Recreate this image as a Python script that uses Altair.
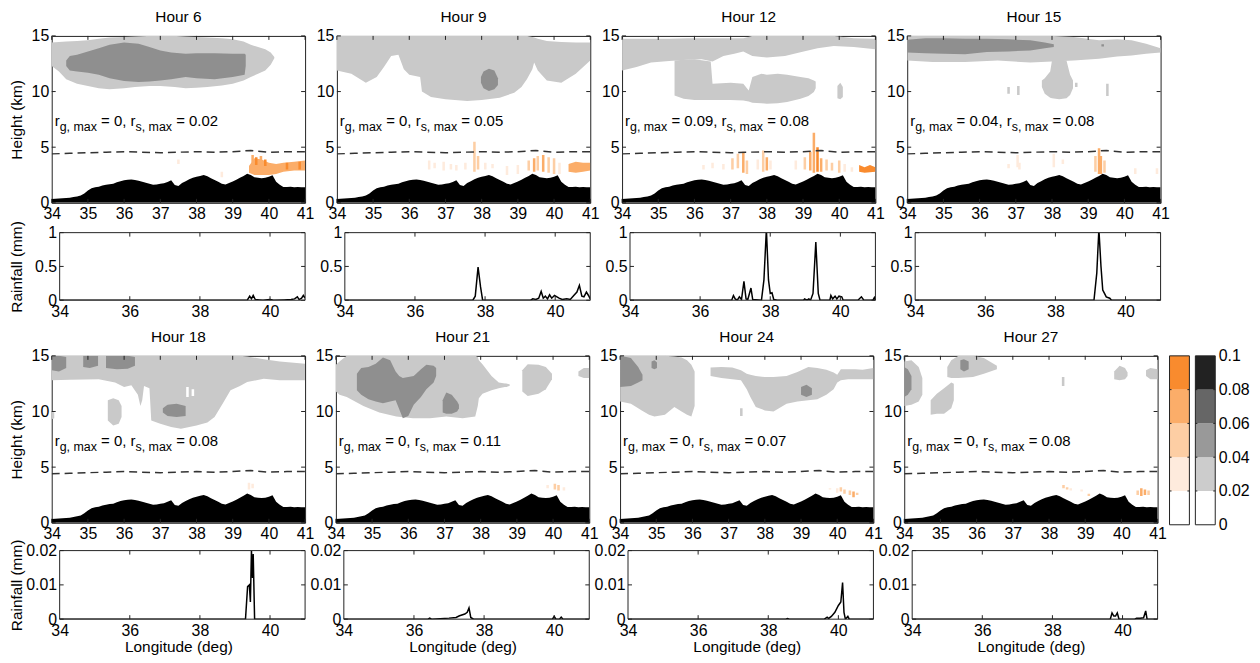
import altair as alt
import pandas as pd

# ---------------------------------------------------------------- data
HOURS = [6, 9, 12, 15, 18, 21, 24, 27]
RG_MAX = ["0", "0", "0.09", "0.04", "0", "0", "0", "0"]
RS_MAX = ["0.02", "0.05", "0.08", "0.08", "0.08", "0.11", "0.07", "0.08"]

LON_TICKS_TOP = [34, 35, 36, 37, 38, 39, 40, 41]
HEIGHT_TICKS = [0, 5, 10, 15]
LON_TICKS_RAIN = [34, 36, 38, 40]
RAIN_TICKS_ROW1 = [0, 0.5, 1]
RAIN_TICKS_ROW2 = [0, 0.01, 0.02]
CB_LEVELS = [0, 0.02, 0.04, 0.06, 0.08, 0.1]

# terrain profile (lon, km)
TERRAIN = [
    (34.0, 0.35), (34.1, 0.37), (34.2, 0.39), (34.3, 0.41), (34.4, 0.43), (34.5, 0.46),
    (34.6, 0.52), (34.7, 0.58), (34.8, 0.65), (34.9, 0.85), (35.0, 1.10), (35.1, 1.30),
    (35.2, 1.40), (35.3, 1.45), (35.4, 1.55), (35.5, 1.62), (35.6, 1.68), (35.7, 1.72),
    (35.8, 1.85), (35.9, 1.95), (36.0, 2.02), (36.1, 2.08), (36.2, 2.10), (36.3, 2.05),
    (36.4, 1.98), (36.5, 1.90), (36.6, 1.80), (36.7, 1.72), (36.8, 1.62), (36.9, 1.65),
    (37.0, 1.72), (37.1, 1.75), (37.2, 1.88), (37.3, 2.02), (37.4, 1.60), (37.5, 1.52),
    (37.6, 1.78), (37.7, 1.95), (37.8, 2.12), (37.9, 2.25), (38.0, 2.35), (38.1, 2.42),
    (38.2, 2.50), (38.3, 2.38), (38.4, 2.20), (38.5, 2.05), (38.6, 1.90), (38.7, 1.72),
    (38.8, 1.65), (38.9, 1.78), (39.0, 1.92), (39.1, 2.08), (39.2, 2.25), (39.3, 2.42),
    (39.4, 2.62), (39.5, 2.50), (39.6, 2.30), (39.7, 2.25), (39.8, 2.22), (39.9, 2.25),
    (40.0, 2.35), (40.1, 2.48), (40.2, 1.90), (40.3, 1.62), (40.4, 1.42), (40.5, 1.42),
    (40.6, 1.45), (40.7, 1.40), (40.8, 1.42), (40.9, 1.40), (41.0, 1.40),
]

# freezing level (lon, km)
FREEZING = [
    (34.0, 4.40), (34.5, 4.45), (35.0, 4.50), (35.5, 4.55), (36.0, 4.60), (36.5, 4.55),
    (37.0, 4.50), (37.5, 4.55), (38.0, 4.60), (38.5, 4.55), (39.0, 4.60), (39.5, 4.70),
    (40.0, 4.55), (40.5, 4.60), (41.0, 4.60),
]

# ---- cloud / graupel regions: (lon, bottom km, top km)
H6_LIGHT_A = [(34.0, 12.3, 14.4), (34.2, 11.8, 14.45), (34.4, 11.1, 14.5), (34.7, 10.7, 14.55),
              (35.0, 10.5, 14.6), (35.3, 10.3, 14.75), (35.6, 10.2, 14.85), (36.0, 10.3, 14.9),
              (36.3, 10.4, 14.95), (36.7, 10.5, 15.0), (37.0, 10.5, 15.0), (37.4, 10.4, 15.0),
              (37.7, 10.3, 14.95), (38.0, 10.35, 14.9), (38.3, 10.4, 14.85), (38.7, 10.55, 14.8),
              (39.0, 10.7, 14.7), (39.3, 11.0, 14.5), (39.5, 11.3, 14.2), (39.7, 11.6, 14.0),
              (39.9, 11.9, 13.8), (40.05, 12.4, 13.5), (40.15, 13.0, 13.1)]
H6_DARK_A = [(34.4, 12.3, 12.8), (34.5, 11.9, 13.2), (34.7, 11.8, 13.3), (35.0, 11.7, 13.6),
             (35.3, 11.5, 13.9), (35.6, 11.2, 14.2), (36.0, 10.95, 14.4), (36.4, 10.85, 14.3),
             (36.7, 10.9, 14.0), (37.0, 11.0, 13.7), (37.3, 11.1, 13.5), (37.7, 11.3, 13.4),
             (38.0, 11.2, 13.45), (38.5, 11.1, 13.45), (39.0, 11.3, 13.4), (39.33, 11.5, 13.4),
             (39.36, 12.3, 13.3)]
H6_ORANGE_A = [(39.45, 2.7, 3.3), (39.6, 2.5, 4.0), (39.8, 2.5, 3.9), (40.0, 2.5, 3.6),
               (40.2, 2.6, 3.5), (40.4, 2.8, 3.6), (40.7, 2.9, 3.7), (41.0, 2.9, 3.8)]
H6_STREAKS = [(37.5, 3.5, 3.9, "1"), (38.7, 2.3, 2.8, "1"), (39.55, 3.6, 4.3, "3"),
              (39.65, 3.4, 4.1, "4"), (39.78, 3.5, 4.2, "3"), (39.9, 3.3, 3.9, "4"),
              (40.5, 3.0, 3.6, "4"), (40.85, 3.0, 3.7, "4")]

H9_LIGHT_A = [(34.0, 11.9, 15.0), (34.4, 11.6, 15.0), (34.8, 10.8, 15.0), (35.1, 11.3, 15.0),
              (35.3, 12.2, 15.0), (35.5, 13.2, 15.0), (35.7, 13.3, 15.0), (35.85, 12.0, 15.0),
              (36.0, 11.5, 15.0), (36.3, 11.3, 15.0), (36.35, 10.0, 15.0), (36.6, 9.5, 15.0),
              (37.0, 9.3, 15.0), (37.6, 9.15, 15.0), (38.0, 9.25, 15.0), (38.5, 9.45, 15.0),
              (38.9, 9.9, 15.0), (39.1, 10.4, 15.0), (39.25, 11.1, 15.0), (39.4, 12.0, 14.9),
              (39.45, 12.6, 14.85), (39.55, 11.9, 14.75), (39.8, 11.0, 14.55), (40.2, 10.8, 14.45),
              (40.6, 11.6, 14.4), (41.0, 12.8, 14.4)]
H9_DARK_A = [(37.98, 10.8, 11.3), (38.05, 10.3, 11.8), (38.2, 10.05, 12.05), (38.35, 10.2, 11.9),
             (38.45, 10.6, 11.2)]
H9_ORANGE_A = [(40.4, 2.8, 3.5), (40.6, 2.7, 3.7), (40.8, 2.8, 3.6), (41.0, 2.9, 3.6)]
H9_STREAKS = [(36.55, 3.0, 3.8, "1"), (36.7, 3.1, 3.6, "1"), (36.95, 2.9, 3.7, "1"),
              (37.15, 3.0, 3.5, "1"), (37.3, 2.9, 3.4, "1"), (37.55, 3.0, 3.6, "1"),
              (37.8, 2.8, 5.5, "2"), (37.9, 3.0, 4.2, "2"), (38.1, 3.0, 3.6, "1"),
              (38.3, 3.1, 3.5, "1"), (38.7, 2.5, 3.3, "1"), (39.0, 2.6, 3.4, "1"),
              (39.3, 2.9, 3.8, "2"), (39.45, 2.8, 4.0, "3"), (39.55, 2.9, 4.2, "2"),
              (39.7, 2.8, 4.3, "3"), (39.85, 2.7, 4.1, "2"), (40.0, 2.6, 4.0, "2"),
              (40.15, 2.6, 3.6, "1")]

H12_LIGHT_A = [(34.0, 11.9, 14.75), (34.4, 12.2, 14.75), (34.8, 12.6, 14.75), (35.3, 12.75, 14.75),
               (35.8, 12.85, 14.8), (36.2, 12.9, 14.8), (36.5, 12.7, 14.8), (36.8, 13.2, 14.8),
               (37.1, 13.4, 14.8), (37.35, 13.6, 14.8), (37.6, 13.2, 15.0), (38.0, 13.05, 15.0),
               (38.5, 13.2, 15.0), (38.9, 13.5, 15.0), (39.4, 13.9, 15.0), (39.85, 14.1, 15.0),
               (40.4, 14.0, 14.8), (41.0, 13.8, 14.75)]
H12_LIGHT_B = [(35.45, 9.65, 12.8), (35.7, 9.35, 12.85), (36.0, 9.25, 12.9), (36.45, 9.25, 12.7),
               (36.5, 9.25, 10.7), (37.0, 9.25, 10.8), (37.35, 9.2, 10.7), (37.5, 9.1, 10.1),
               (37.6, 9.0, 11.3), (37.85, 8.95, 11.6), (38.0, 8.9, 11.5), (38.3, 8.95, 11.6),
               (38.56, 9.05, 11.5), (38.93, 9.35, 11.3), (39.15, 9.6, 11.2), (39.3, 9.95, 11.0),
               (39.35, 10.3, 10.9)]
H12_LIGHT_C = [(39.95, 9.4, 10.5), (40.03, 9.3, 10.8), (40.1, 9.5, 10.4)]
H12_ORANGE_A = [(40.55, 2.8, 3.4), (40.7, 2.7, 3.2), (40.85, 2.75, 3.4), (41.0, 2.8, 3.2)]
H12_STREAKS = [(36.25, 3.0, 3.4, "1"), (36.5, 3.1, 3.6, "1"), (36.8, 3.0, 3.5, "1"),
               (37.05, 3.0, 4.0, "2"), (37.2, 3.1, 4.4, "2"), (37.35, 2.7, 4.6, "3"),
               (37.45, 2.6, 3.8, "2"), (37.75, 3.0, 3.9, "1"), (37.9, 2.8, 4.7, "2"),
               (38.0, 2.9, 4.1, "3"), (38.1, 3.0, 3.8, "1"), (38.8, 3.0, 3.8, "1"),
               (39.05, 3.0, 4.1, "2"), (39.2, 2.9, 4.6, "3"), (39.3, 2.7, 6.3, "3"),
               (39.4, 2.8, 5.0, "4"), (39.5, 2.8, 4.0, "3"), (39.65, 2.9, 3.9, "2"),
               (39.8, 2.9, 3.6, "2"), (40.0, 2.7, 3.8, "2"), (40.15, 2.8, 3.5, "1"),
               (40.35, 2.8, 3.2, "1")]

H15_LIGHT_A = [(34.0, 12.8, 15.0), (34.7, 12.65, 15.0), (35.6, 12.65, 15.0), (36.5, 12.8, 15.0),
               (37.4, 12.6, 15.0), (38.0, 12.7, 15.0), (38.6, 12.8, 14.9), (39.3, 12.95, 14.6),
               (39.8, 13.15, 14.7), (40.2, 13.25, 14.6), (40.6, 13.4, 14.3), (41.0, 13.5, 13.9)]
H15_LIGHT_B = [(37.72, 10.4, 11.0), (37.8, 9.8, 11.2), (37.95, 9.45, 11.8), (38.0, 9.4, 12.8),
               (38.2, 9.3, 12.8), (38.4, 9.4, 12.8), (38.5, 9.7, 11.5), (38.58, 10.3, 11.0)]
H15_DARK_A = [(34.0, 13.5, 14.65), (34.5, 13.45, 14.8), (35.0, 13.4, 14.8), (35.6, 13.35, 14.75),
              (36.2, 13.55, 14.75), (36.8, 13.6, 14.7), (37.4, 13.7, 14.6), (37.8, 13.9, 14.4),
              (38.05, 14.0, 14.25)]
H15_STREAKS = [(36.8, 9.8, 10.4, "L"), (37.07, 9.7, 10.5, "L"), (38.67, 10.4, 10.8, "L"),
               (39.53, 9.6, 10.7, "L"), (39.4, 14.05, 14.25, "D"),
               (36.8, 3.1, 3.5, "1"), (37.05, 3.2, 4.3, "1"), (37.1, 3.0, 3.6, "1"),
               (38.05, 3.2, 4.4, "1"), (38.3, 3.5, 3.9, "1"), (39.2, 2.8, 4.2, "2"),
               (39.3, 2.6, 4.9, "3"), (39.35, 2.6, 4.2, "3"), (39.45, 2.7, 3.8, "2"),
               (40.3, 2.6, 3.1, "1"), (40.9, 2.6, 3.1, "1")]

H18_LIGHT_A = [(34.0, 12.8, 15), (34.5, 12.85, 15), (35.3, 12.9, 15), (35.75, 12.6, 15),
               (36.0, 12.2, 15), (36.2, 12.35, 15), (36.38, 11.5, 15), (36.45, 10.5, 15),
               (36.5, 11.0, 15), (36.55, 12.3, 15), (36.7, 12.1, 15), (36.75, 9.2, 15),
               (37.0, 8.9, 15), (37.3, 8.6, 15), (37.57, 8.45, 15), (38.0, 8.75, 15),
               (38.3, 9.0, 15), (38.5, 9.5, 15), (38.75, 10.85, 15), (38.94, 11.9, 15),
               (39.2, 12.3, 15), (39.4, 12.65, 14.95), (39.86, 12.95, 14.7), (40.3, 12.8, 14.5),
               (41.0, 12.8, 14.3)]
H18_LIGHT_B = [(35.55, 9.2, 11.0), (35.7, 8.75, 11.2), (35.85, 8.9, 11.0), (35.93, 9.5, 10.5)]
H18_LIGHT_C = [(34.0, 9.3, 10.0), (34.07, 9.4, 9.9)]
H18_DARK_A = [(34.0, 13.7, 15), (34.2, 13.6, 15), (34.4, 13.9, 14.9)]
H18_DARK_B = [(34.87, 14.0, 15), (35.05, 13.9, 15), (35.28, 14.1, 15)]
H18_DARK_C = [(35.5, 13.9, 15), (35.8, 13.8, 15), (36.1, 13.85, 15), (36.3, 14.1, 14.9)]
H18_DARK_D = [(37.07, 9.9, 10.3), (37.2, 9.6, 10.6), (37.45, 9.5, 10.7), (37.7, 9.6, 10.5)]
H18_STREAKS = [(37.75, 11.3, 12.2, "W"), (37.9, 11.4, 12.0, "W"), (39.45, 3.0, 3.6, "1"),
               (39.55, 3.1, 3.5, "1")]

H21_LIGHT_A = [(34.0, 11.8, 14.2), (34.1, 11.5, 14.5), (34.3, 11.3, 15), (34.76, 10.5, 15),
               (35.2, 9.9, 15), (35.67, 9.55, 15), (36.13, 9.4, 15), (36.6, 9.4, 15),
               (37.05, 9.55, 15), (37.5, 9.4, 15), (37.85, 9.55, 15), (37.92, 10.5, 14.9),
               (37.95, 11.2, 14.6), (38.05, 11.6, 14.25), (38.3, 11.9, 13.2), (38.5, 12.1, 12.6),
               (38.8, 12.3, 12.45)]
H21_LIGHT_B = [(39.15, 11.8, 13.7), (39.3, 11.4, 14.25), (39.6, 11.6, 14.2), (39.8, 12.0, 14.0),
               (39.97, 12.9, 13.4)]
H21_LIGHT_C = [(40.7, 13.2, 13.6), (40.85, 13.0, 13.9), (41.0, 13.0, 13.9)]
H21_DARK_A = [(34.58, 11.9, 13.4), (34.7, 11.5, 13.9), (34.9, 11.1, 14.0), (35.1, 10.9, 14.3),
              (35.3, 10.75, 14.85), (35.5, 10.9, 14.6), (35.65, 11.0, 13.6), (35.75, 10.2, 13.2),
              (35.85, 9.4, 13.0), (36.0, 9.6, 13.1), (36.15, 10.6, 13.2), (36.35, 11.3, 13.8),
              (36.5, 12.0, 14.2), (36.7, 12.6, 14.1), (36.77, 13.2, 13.9)]
H21_DARK_B = [(36.95, 9.9, 11.0), (37.05, 9.8, 11.7), (37.2, 9.8, 11.5), (37.35, 10.0, 10.9),
              (37.4, 10.3, 10.6)]
H21_STREAKS = [(38.7, 12.2, 12.5, "L"), (39.85, 3.1, 3.4, "1"), (40.05, 3.0, 3.5, "2"),
               (40.15, 2.9, 3.4, "2"), (40.3, 2.9, 3.2, "1")]

H24_LIGHT_A = [(34.0, 10.9, 15), (34.3, 10.7, 15), (34.6, 10.1, 15), (34.8, 9.7, 15),
               (34.95, 9.55, 15), (35.24, 9.7, 15), (35.5, 10.4, 14.95), (35.7, 10.0, 14.85),
               (35.85, 9.7, 14.6), (35.97, 9.55, 14.2), (36.06, 10.5, 13.6)]
H24_LIGHT_B = [(36.5, 13.2, 13.95), (36.8, 13.0, 14.0), (37.1, 12.9, 13.95), (37.34, 12.8, 13.7),
               (37.5, 12.0, 13.4), (37.6, 11.3, 13.3), (37.75, 10.4, 13.2), (38.0, 10.1, 13.1),
               (38.24, 10.0, 13.1), (38.6, 10.7, 13.2), (38.9, 10.9, 13.55), (39.2, 11.0, 14.0),
               (39.45, 11.1, 13.9), (39.7, 11.5, 13.75), (39.9, 12.0, 13.5), (40.0, 12.6, 13.3),
               (40.1, 12.8, 13.8), (40.3, 12.9, 13.8), (40.5, 12.9, 13.8), (40.7, 12.9, 13.75),
               (41.0, 12.9, 13.9)]
H24_DARK_A = [(34.0, 12.2, 15), (34.3, 12.3, 14.8), (34.5, 12.6, 14.0), (34.62, 12.8, 13.3)]
H24_DARK_B = [(34.87, 13.9, 14.5), (34.95, 13.8, 14.6), (35.02, 13.9, 14.4)]
H24_DARK_C = [(39.0, 11.5, 12.2), (39.15, 11.3, 12.4), (39.3, 11.5, 12.1)]
H24_STREAKS = [(37.35, 9.6, 10.3, "L"), (39.8, 3.0, 3.1, "1"), (40.0, 2.7, 3.1, "1"),
               (40.1, 2.8, 3.2, "2"), (40.2, 2.6, 3.0, "2"), (40.35, 2.5, 2.9, "2"),
               (40.45, 2.3, 2.8, "3"), (40.55, 2.5, 2.7, "2")]

H27_LIGHT_A = [(34.0, 10.5, 14.5), (34.2, 10.6, 14.6), (34.4, 10.9, 14.0), (34.5, 11.5, 13.0)]
H27_LIGHT_B = [(34.73, 9.7, 11.0), (34.9, 9.8, 11.6), (35.1, 9.8, 12.1), (35.3, 10.3, 12.6),
               (35.37, 11.0, 12.5)]
H27_LIGHT_C = [(35.19, 13.1, 14.0), (35.3, 13.0, 14.6), (35.5, 13.0, 15), (35.9, 13.1, 15),
               (36.2, 13.4, 14.8), (36.56, 13.8, 14.1)]
H27_LIGHT_D = [(39.8, 12.9, 13.6), (39.95, 12.8, 14.1), (40.1, 12.9, 13.9), (40.17, 13.2, 13.5)]
H27_LIGHT_E = [(40.68, 13.2, 13.7), (40.8, 12.9, 13.9), (41.0, 12.9, 13.8)]
H27_DARK_A = [(34.0, 11.3, 14.0), (34.1, 11.5, 13.8), (34.2, 12.0, 13.2)]
H27_DARK_B = [(35.55, 13.8, 14.6), (35.65, 13.6, 14.7), (35.78, 13.8, 14.5)]
H27_STREAKS = [(38.39, 12.3, 13.1, "L"), (38.4, 3.1, 3.4, "2"), (38.5, 3.0, 3.2, "2"),
               (38.6, 2.9, 3.1, "1"), (38.9, 2.8, 3.0, "1"), (39.1, 2.4, 2.6, "2"),
               (40.45, 2.5, 2.9, "2"), (40.55, 2.4, 3.1, "3"), (40.65, 2.5, 3.0, "3"),
               (40.75, 2.5, 2.9, "2")]

# ---- surface rainfall (lon, mm)
RAIN_H6 = [(34.0, 0), (39.35, 0), (39.42, 0.06), (39.47, 0.02), (39.52, 0.07), (39.58, 0.01),
           (39.7, 0.005), (39.8, 0), (40.0, 0.01), (40.1, 0), (40.4, 0.005), (40.6, 0.01),
           (40.7, 0.02), (40.78, 0.05), (40.83, 0.01), (40.9, 0.03), (40.95, 0.07), (41.0, 0.03)]
RAIN_H9 = [(34.0, 0), (37.65, 0), (37.72, 0.06), (37.8, 0.49), (37.87, 0.2), (37.93, 0),
           (39.3, 0), (39.36, 0.02), (39.45, 0.01), (39.53, 0.03), (39.6, 0.13), (39.66, 0.03),
           (39.72, 0.06), (39.78, 0.02), (39.84, 0.08), (39.9, 0.03), (39.98, 0.07), (40.05, 0.05),
           (40.11, 0.03), (40.2, 0.01), (40.33, 0.02), (40.43, 0.01), (40.53, 0.07), (40.62, 0.12),
           (40.69, 0.22), (40.76, 0.06), (40.82, 0.05), (40.89, 0.12), (40.95, 0.07), (41.0, 0.02)]
RAIN_H12 = [(34.0, 0), (36.9, 0), (36.95, 0.07), (37.0, 0.02), (37.06, 0), (37.12, 0.05),
            (37.18, 0.01), (37.25, 0.28), (37.31, 0.02), (37.36, 0.01), (37.45, 0.18), (37.5, 0.01),
            (37.75, 0), (37.82, 0.3), (37.89, 1.05), (37.95, 0.3), (38.0, 0.1), (38.05, 0.11),
            (38.1, 0.01), (38.2, 0), (38.95, 0), (38.98, 0.02), (39.05, 0), (39.1, 0.02),
            (39.15, 0), (39.22, 0.1), (39.3, 0.86), (39.37, 0.1), (39.42, 0), (39.7, 0),
            (39.73, 0.07), (39.78, 0.02), (39.85, 0.06), (39.9, 0.02), (39.96, 0.06), (40.04, 0.05),
            (40.08, 0), (40.5, 0), (40.6, 0.05), (40.67, 0), (40.93, 0), (40.97, 0.04), (41.0, 0)]
RAIN_H15 = [(34.0, 0), (39.1, 0), (39.18, 0.4), (39.24, 1.05), (39.3, 0.5), (39.35, 0.15),
            (39.4, 0.1), (39.45, 0.05), (39.55, 0.03), (39.6, 0), (41.0, 0)]
RAIN_H18 = [(34.0, 0), (39.3, 0), (39.36, 0.0095), (39.41, 0.01), (39.44, 0.005), (39.47, 0.02),
            (39.5, 0.012), (39.52, 0.019), (39.56, 0), (41.0, 0)]
RAIN_H21 = [(34.0, 0), (36.4, 0), (36.45, 0.0003), (36.5, 0), (37.0, 0.0003), (37.2, 0.0005),
            (37.3, 0.001), (37.45, 0.0015), (37.52, 0.002), (37.57, 0.0033), (37.62, 0.0005),
            (37.7, 0), (39.95, 0), (40.0, 0.0008), (40.05, 0), (40.15, 0), (40.2, 0.0006),
            (40.25, 0), (41.0, 0)]
RAIN_H24 = [(34.0, 0), (38.5, 0), (38.55, 0.0002), (38.6, 0), (39.6, 0), (39.68, 0.0006),
            (39.72, 0.0002), (39.8, 0.0008), (39.9, 0.002), (40.0, 0.004), (40.07, 0.005),
            (40.12, 0.0107), (40.16, 0.002), (40.2, 0), (40.27, 0.0008), (40.31, 0), (41.0, 0)]
RAIN_H27 = [(34.0, 0), (39.65, 0), (39.7, 0.0018), (39.75, 0.0009), (39.8, 0.0009), (39.85, 0.0018),
            (39.9, 0), (40.35, 0), (40.4, 0.0003), (40.5, 0.0003), (40.6, 0.0004), (40.66, 0.0024),
            (40.7, 0), (41.0, 0)]

PANEL_LIGHT = {6: [H6_LIGHT_A], 9: [H9_LIGHT_A], 12: [H12_LIGHT_A, H12_LIGHT_B, H12_LIGHT_C],
               15: [H15_LIGHT_A, H15_LIGHT_B], 18: [H18_LIGHT_A, H18_LIGHT_B, H18_LIGHT_C],
               21: [H21_LIGHT_A, H21_LIGHT_B, H21_LIGHT_C], 24: [H24_LIGHT_A, H24_LIGHT_B],
               27: [H27_LIGHT_A, H27_LIGHT_B, H27_LIGHT_C, H27_LIGHT_D, H27_LIGHT_E]}
PANEL_DARK = {6: [H6_DARK_A], 9: [H9_DARK_A], 12: [], 15: [H15_DARK_A],
              18: [H18_DARK_A, H18_DARK_B, H18_DARK_C, H18_DARK_D], 21: [H21_DARK_A, H21_DARK_B],
              24: [H24_DARK_A, H24_DARK_B, H24_DARK_C], 27: [H27_DARK_A, H27_DARK_B]}
PANEL_ORANGE = {6: [("3", H6_ORANGE_A)], 9: [("3", H9_ORANGE_A)], 12: [("4", H12_ORANGE_A)],
                15: [], 18: [], 21: [], 24: [], 27: []}
PANEL_STREAKS = {6: H6_STREAKS, 9: H9_STREAKS, 12: H12_STREAKS, 15: H15_STREAKS,
                 18: H18_STREAKS, 21: H21_STREAKS, 24: H24_STREAKS, 27: H27_STREAKS}
PANEL_RAIN = {6: RAIN_H6, 9: RAIN_H9, 12: RAIN_H12, 15: RAIN_H15,
              18: RAIN_H18, 21: RAIN_H21, 24: RAIN_H24, 27: RAIN_H27}

# ---------------------------------------------------------------- style
FONT = "Liberation Sans"
FRAME = "#222222"
LIGHT = "#c9c9c9"
DARK = "#8f8f8f"
CODE_COLOR = {"L": LIGHT, "D": DARK, "W": "#ffffff",
              "1": "#feebdd", "2": "#fdcea4", "3": "#fbad69", "4": "#f98b2e"}
CB_GREYS = ["#ffffff", "#cccccc", "#999999", "#666666", "#222222"]
CB_ORANGES = ["#ffffff", "#feebdd", "#fdcea4", "#fbad69", "#f98b2e"]

W = 255
H_TOP = 168
H_RAIN = {1: 68, 2: 69}
INSET = 8
STREAK_W = 0.07
TICK = 4
FS_MAIN = 15
FS_SUB = 12.5
Y_MAIN = 90.5
Y_SUB = 96
TEXT_X0 = 3
YTITLE_PAGE_X = 17      # page x of the y-axis titles' centre
PLOT_LEFT = 52          # page x of the first column's plot area
CHAR_W = {"r": 0.333, "g": 0.556, ",": 0.278, " ": 0.278, "m": 0.833, "a": 0.556,
          "x": 0.5, "s": 0.5, "=": 0.584, ".": 0.278}

ONE = pd.DataFrame({"v": [0]})


def text_width(s, fs):
    return sum(CHAR_W.get(c, 0.556) for c in s) * fs


def regions_df(regions, codes=None):
    rows = []
    for i, reg in enumerate(regions):
        for lon, lo, hi in reg:
            rows.append(dict(lon=lon, lo=lo, hi=hi, rid=i,
                             col=CODE_COLOR[codes[i]] if codes else "#000"))
    return pd.DataFrame(rows)


def y_title_kw(title, axis_x, H):
    if not title:
        return dict(title=None)
    return dict(title=title, titleX=YTITLE_PAGE_X - axis_x, titleY=H / 2,
                titleBaseline="middle", titleAlign="center", titleAngle=270)


def top_panel(hour, rg, rs, first_col):
    xs = alt.Scale(domain=[34, 41], nice=False, zero=False)
    ys = alt.Scale(domain=[0, 15], nice=False, zero=False)
    xax = alt.Axis(values=LON_TICKS_TOP, format="d", title=None, labelPadding=3)
    yax = alt.Axis(values=HEIGHT_TICKS, format="d", labelPadding=3,
                   **y_title_kw("Height (km)" if first_col else None, PLOT_LEFT, H_TOP))

    def X(f):
        return alt.X(f, type="quantitative", scale=xs, axis=xax)

    def Y(f):
        return alt.Y(f, type="quantitative", scale=ys, axis=yax)

    layers = []
    light = PANEL_LIGHT[hour]
    if light:
        layers.append(alt.Chart(regions_df(light)).mark_area(color=LIGHT, clip=True).encode(
            x=X("lon"), y=Y("hi"), y2=alt.Y2("lo"), detail="rid:N"))
    dark = PANEL_DARK[hour]
    if dark:
        layers.append(alt.Chart(regions_df(dark)).mark_area(color=DARK, clip=True).encode(
            x=X("lon"), y=Y("hi"), y2=alt.Y2("lo"), detail="rid:N"))
    oranges = PANEL_ORANGE[hour]
    if oranges:
        df = regions_df([r for _, r in oranges], [c for c, _ in oranges])
        layers.append(alt.Chart(df).mark_area(clip=True).encode(
            x=X("lon"), y=Y("hi"), y2=alt.Y2("lo"), detail="rid:N",
            color=alt.Color("col:N", scale=None)))
    streaks = PANEL_STREAKS[hour]
    if streaks:
        sdf = pd.DataFrame([dict(x1=l - STREAK_W / 2, x2=l + STREAK_W / 2, lo=a, hi=b,
                                 col=CODE_COLOR[c]) for l, a, b, c in streaks])
        layers.append(alt.Chart(sdf).mark_rect(clip=True).encode(
            x=X("x1"), x2=alt.X2("x2"), y=Y("lo"), y2=alt.Y2("hi"),
            color=alt.Color("col:N", scale=None)))
    tdf = pd.DataFrame(TERRAIN, columns=["lon", "h"])
    layers.append(alt.Chart(tdf).mark_area(color="black", clip=True).encode(x=X("lon"), y=Y("h")))
    fdf = pd.DataFrame(FREEZING, columns=["lon", "h"])
    layers.append(alt.Chart(fdf).mark_line(color="#333333", strokeDash=[8, 5], strokeWidth=1.5,
                                           clip=True).encode(x=X("lon"), y=Y("h")))
    # inward ticks
    xt = pd.DataFrame({"t": LON_TICKS_TOP})
    yt = pd.DataFrame({"t": HEIGHT_TICKS})
    layers.append(alt.Chart(xt).mark_rule(color=FRAME).encode(
        x=X("t"), y=alt.value(H_TOP), y2=alt.value(H_TOP - TICK)))
    layers.append(alt.Chart(xt).mark_rule(color=FRAME).encode(
        x=X("t"), y=alt.value(0), y2=alt.value(TICK)))
    layers.append(alt.Chart(yt).mark_rule(color=FRAME).encode(
        y=Y("t"), x=alt.value(0), x2=alt.value(TICK)))
    layers.append(alt.Chart(yt).mark_rule(color=FRAME).encode(
        y=Y("t"), x=alt.value(W - TICK), x2=alt.value(W)))
    # annotation with subscripts
    pieces = [("r", False), ("g, max", True), (" = " + rg + ", r", False),
              ("s, max", True), (" = " + rs, False)]
    x = TEXT_X0
    for s, sub in pieces:
        fs = FS_SUB if sub else FS_MAIN
        lead = len(s) - len(s.lstrip(" "))
        x += lead * CHAR_W[" "] * fs
        s2 = s.lstrip(" ")
        layers.append(alt.Chart(ONE).mark_text(
            text=s2, font=FONT, fontSize=fs, align="left", baseline="alphabetic",
            color="black").encode(x=alt.value(x), y=alt.value(Y_SUB if sub else Y_MAIN)))
        x += text_width(s2, fs)
    return alt.layer(*layers).properties(
        width=W, height=H_TOP, title=alt.TitleParams("Hour %d" % hour))


def rain_panel(hour, row, first_col):
    H = H_RAIN[row]
    ymax = 1 if row == 1 else 0.02
    yticks = RAIN_TICKS_ROW1 if row == 1 else RAIN_TICKS_ROW2
    lo = 34 - 7 * INSET / (W - INSET)
    xs = alt.Scale(domain=[lo, 41], nice=False, zero=False)
    ys = alt.Scale(domain=[0, ymax], nice=False, zero=False)
    xax = alt.Axis(values=LON_TICKS_RAIN, format="d",
                   title="Longitude (deg)" if row == 2 else None, labelPadding=3, titlePadding=2)
    yax = alt.Axis(values=yticks, format="~g", offset=-INSET, labelPadding=3,
                   **y_title_kw("Rainfall (mm)" if first_col else None, PLOT_LEFT + INSET, H))

    def X(f):
        return alt.X(f, type="quantitative", scale=xs, axis=xax)

    def Y(f):
        return alt.Y(f, type="quantitative", scale=ys, axis=yax)

    df = pd.DataFrame(PANEL_RAIN[hour], columns=["lon", "mm"])
    line = alt.Chart(df).mark_line(color="black", strokeWidth=1.5, clip=True).encode(
        x=X("lon"), y=Y("mm"))
    frame = alt.Chart(ONE).mark_rect(filled=False, color=FRAME, strokeWidth=1).encode(
        x=alt.value(INSET), x2=alt.value(W), y=alt.value(0), y2=alt.value(H))
    xt = pd.DataFrame({"t": LON_TICKS_RAIN[1:]})
    yt = pd.DataFrame({"t": yticks})
    tb = alt.Chart(xt).mark_rule(color=FRAME).encode(x=X("t"), y=alt.value(H), y2=alt.value(H - TICK))
    tt = alt.Chart(xt).mark_rule(color=FRAME).encode(x=X("t"), y=alt.value(0), y2=alt.value(TICK))
    tl = alt.Chart(yt).mark_rule(color=FRAME).encode(
        y=Y("t"), x=alt.value(INSET), x2=alt.value(INSET + TICK))
    tr = alt.Chart(yt).mark_rule(color=FRAME).encode(
        y=Y("t"), x=alt.value(W - TICK), x2=alt.value(W))
    return alt.layer(line, frame, tb, tt, tl, tr).properties(
        width=W, height=H, view=alt.ViewBackground(stroke="transparent"))


def colorbar():
    H = 170
    ys = alt.Scale(domain=[0, 0.1], nice=False, zero=False)
    yax = alt.Axis(values=CB_LEVELS, format="~g", orient="right", title=None, labelPadding=3)
    df = pd.DataFrame({"y0": CB_LEVELS[:-1], "y1": CB_LEVELS[1:], "og": CB_ORANGES, "gr": CB_GREYS})
    orange = alt.Chart(df).mark_rect().encode(
        x=alt.value(0), x2=alt.value(20), y=alt.Y("y0:Q", scale=ys, axis=yax), y2=alt.Y2("y1"),
        color=alt.Color("og:N", scale=None))
    grey = alt.Chart(df).mark_rect().encode(
        x=alt.value(26), x2=alt.value(46), y=alt.Y("y0:Q", scale=ys, axis=yax), y2=alt.Y2("y1"),
        color=alt.Color("gr:N", scale=None))
    b1 = alt.Chart(ONE).mark_rect(filled=False, color=FRAME, strokeWidth=1).encode(
        x=alt.value(0), x2=alt.value(20), y=alt.value(0), y2=alt.value(H))
    b2 = alt.Chart(ONE).mark_rect(filled=False, color=FRAME, strokeWidth=1).encode(
        x=alt.value(26), x2=alt.value(46), y=alt.value(0), y2=alt.value(H))
    tdf = pd.DataFrame({"t": CB_LEVELS[1:-1]})
    ticks = [alt.Chart(tdf).mark_rule(color=FRAME).encode(
        y=alt.Y("t:Q", scale=ys, axis=yax), x=alt.value(a), x2=alt.value(b))
        for a, b in [(0, 2), (18, 20), (26, 28), (44, 46)]]
    return alt.layer(orange, grey, b1, b2, *ticks).properties(
        width=46, height=H, view=alt.ViewBackground(stroke="transparent"))


def column(i, row):
    hour = HOURS[i]
    first = (i % 4 == 0)
    return alt.vconcat(top_panel(hour, RG_MAX[i], RS_MAX[i], first),
                       rain_panel(hour, row, first),
                       spacing=30 if row == 1 else 28, bounds="flush")


row1 = alt.hconcat(*[column(i, 1) for i in range(4)], spacing=0)
row2 = alt.hconcat(column(4, 2), column(5, 2), column(6, 2),
                   alt.hconcat(column(7, 2), colorbar(), spacing=1), spacing=-6)

chart = alt.vconcat(row1, row2, spacing=10).properties(
    padding={"left": 1, "top": 0, "right": 2, "bottom": 0}
).configure(font=FONT).configure_view(stroke=FRAME, strokeWidth=1).configure_axis(
    labelFont=FONT, titleFont=FONT, labelFontSize=16, titleFontSize=15.5, labelColor="black",
    titleColor="black", titleFontWeight="normal", domain=False, ticks=False, grid=False,
    labelFlush=False, labelOverlap=False
).configure_title(font=FONT, fontSize=15.5, fontWeight="normal", color="black", offset=2,
                  anchor="middle")

chart.save("out.html", embed_options={"renderer": "svg", "actions": False})
